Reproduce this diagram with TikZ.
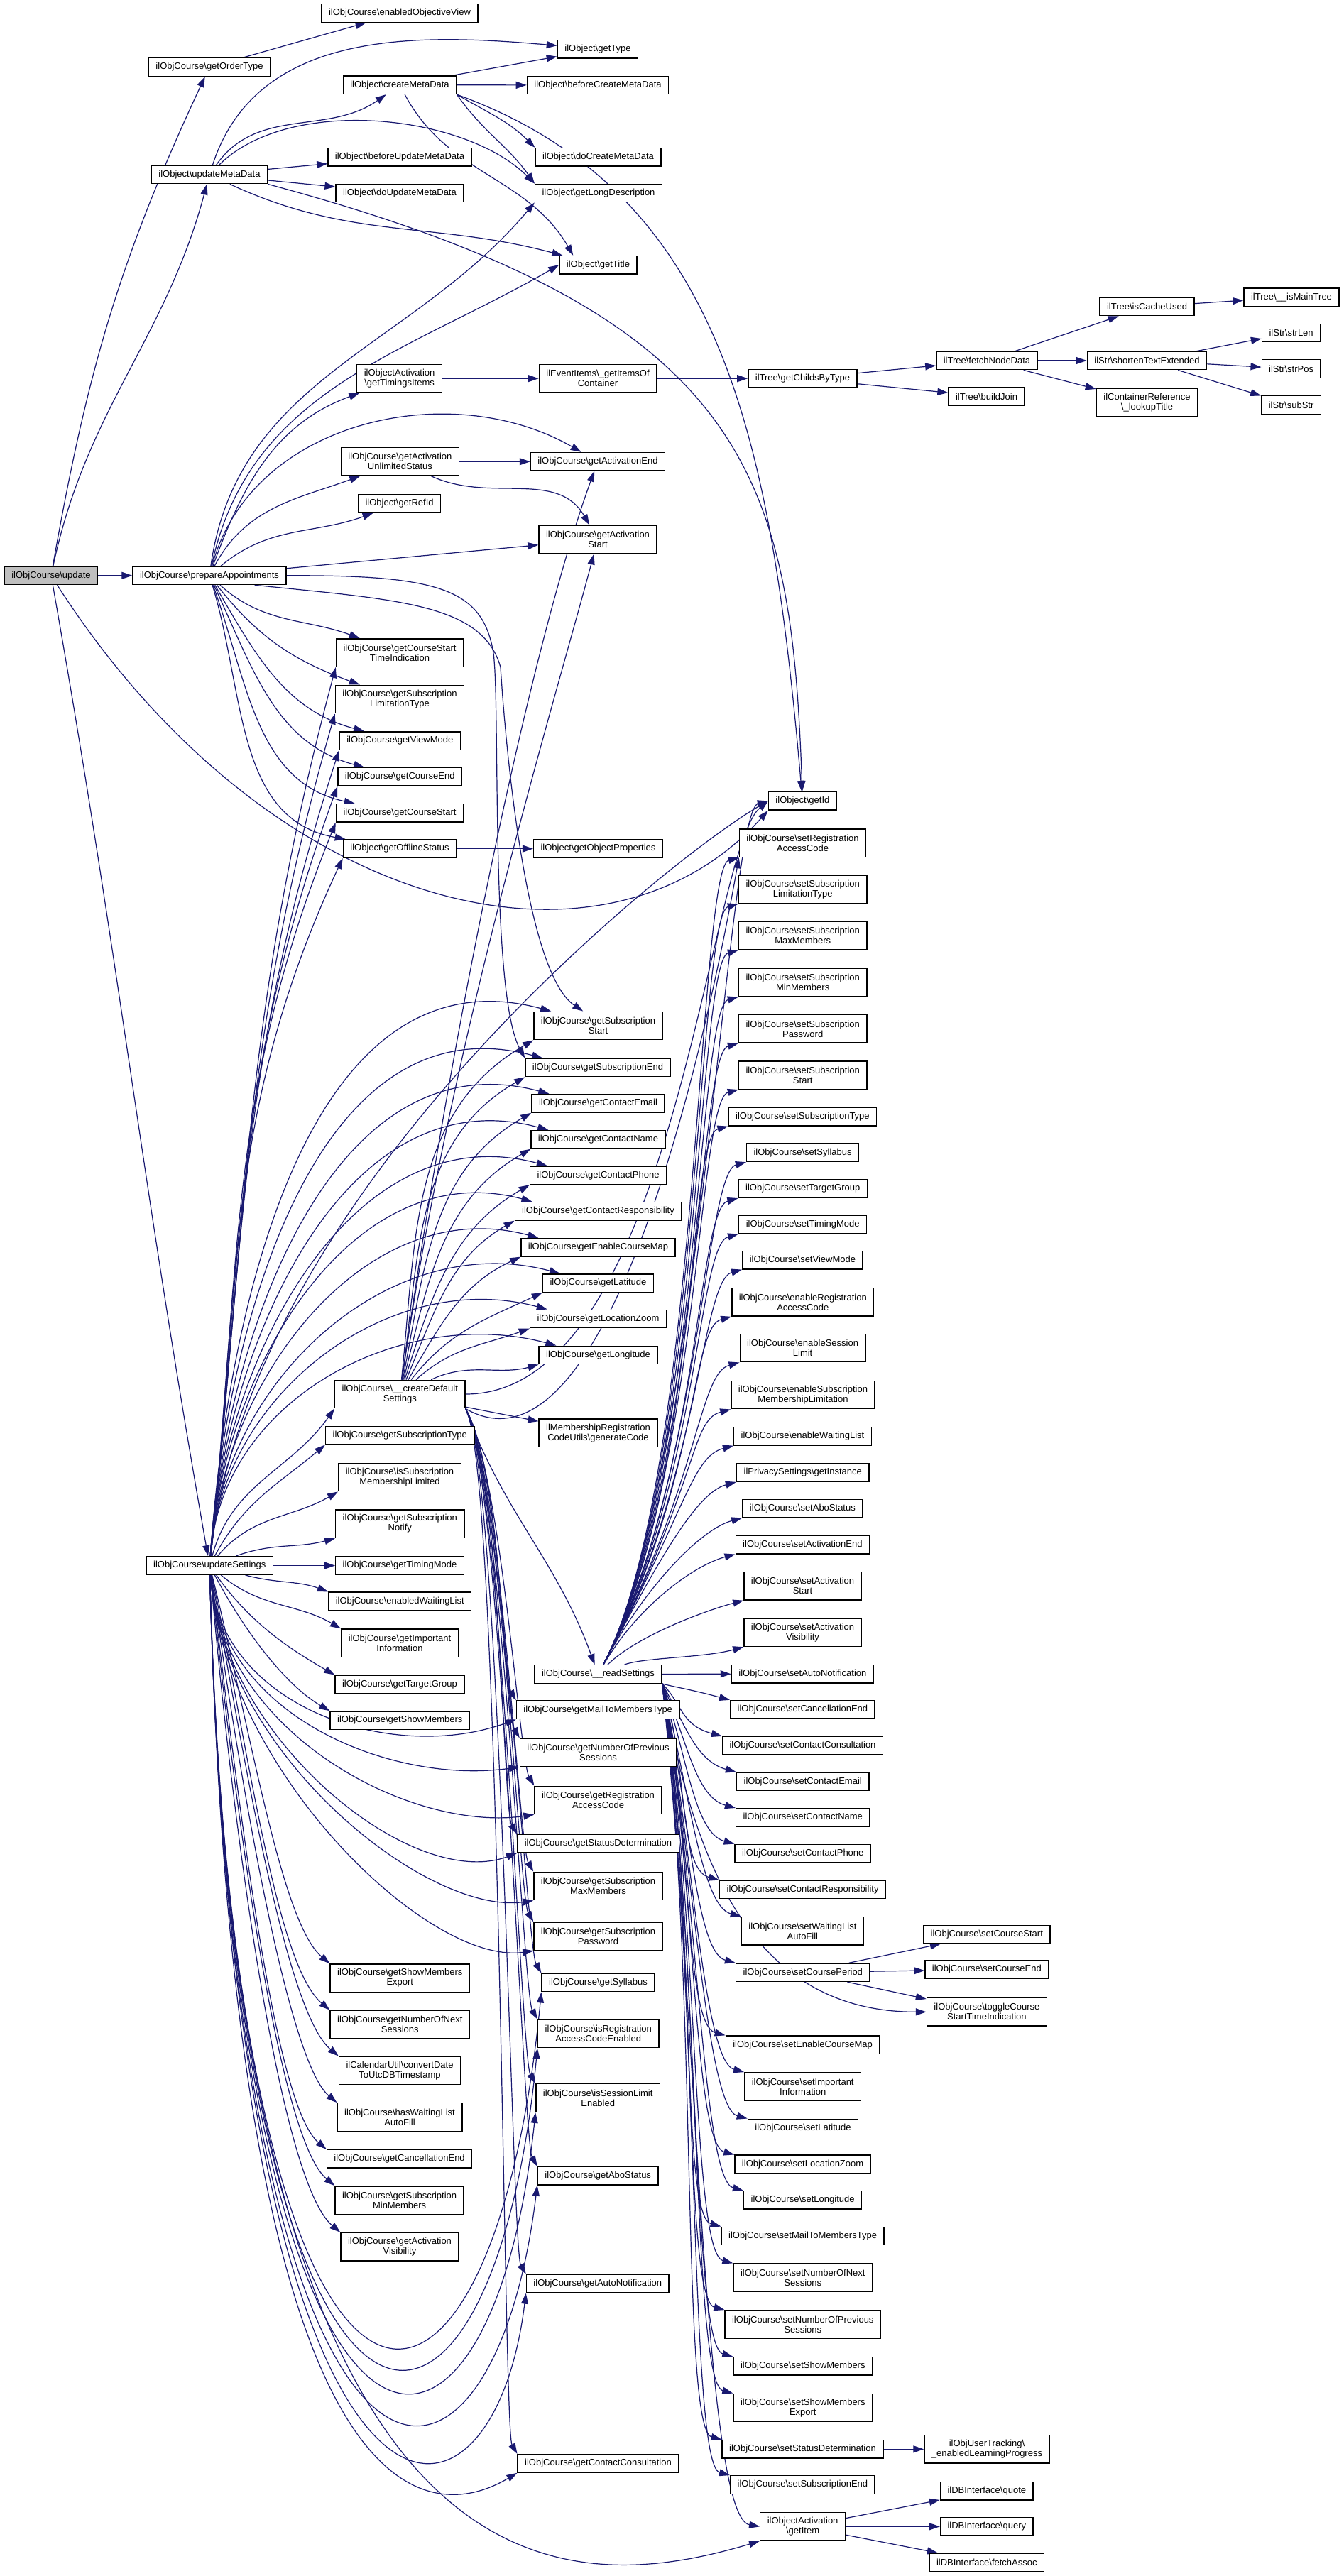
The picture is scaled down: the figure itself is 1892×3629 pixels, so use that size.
\documentclass[tikz,border=0pt]{standalone}
\usepackage{fontspec}
\setsansfont{Liberation Sans}
\usepackage{xcolor}
\usepackage{tikz}
\usetikzlibrary{arrows.meta,backgrounds}

\definecolor{callblue}{HTML}{191970}
\definecolor{rootgray}{HTML}{BFBFBF}
\newcommand{\bsl}{\textbackslash}

\begin{document}
\begin{tikzpicture}[
    x=0.4pt, y=0.4pt,
    font=\fontsize{5.2}{5.6}\selectfont\sffamily,
    fn/.style={rectangle, draw=black, line width=0.56pt, fill=white, align=center,
               inner xsep=4pt, inner ysep=0.8pt, minimum height=10.2pt},
    fnii/.style={fn, minimum height=15.8pt},
    root/.style={fn, fill=rootgray},
    call/.style={-{Triangle[length=6pt,width=4pt]}, line width=0.48pt, draw=callblue}
]
\useasboundingbox (0,0) rectangle (1892,-3629);

% =========================================================
% caller chain (left)
% =========================================================
\node[root] (update)              at (72,-810.8)    {ilObjCourse\bsl update};
\node[fn]   (getOrderType)        at (295,-94.5)    {ilObjCourse\bsl getOrderType};
\node[fn]   (updateMetaData)      at (295,-246)     {ilObject\bsl updateMetaData};
\node[fn]   (prepareAppointments) at (295,-810.8)   {ilObjCourse\bsl prepareAppointments};
\node[fn]   (updateSettings)      at (295.3,-2205.5) {ilObjCourse\bsl updateSettings};

% =========================================================
% second column
% =========================================================
\node[fn]   (enabledObjectiveView) at (563,-18.5)   {ilObjCourse\bsl enabledObjectiveView};
\node[fn]   (createMetaData)       at (563,-119.7)  {ilObject\bsl createMetaData};
\node[fn]   (beforeUpdateMetaData) at (563,-221.3)  {ilObject\bsl beforeUpdateMetaData};
\node[fn]   (doUpdateMetaData)     at (563,-272)    {ilObject\bsl doUpdateMetaData};
\node[fnii] (getTimingsItems)      at (562.6,-533.2) {ilObjectActivation\\\bsl getTimingsItems};
\node[fnii] (getActUnlimited)      at (563.4,-650.2) {ilObjCourse\bsl getActivation\\UnlimitedStatus};
\node[fn]   (getRefId)             at (562.6,-709.2) {ilObject\bsl getRefId};
\node[fnii] (getCourseStartTI)     at (563,-919.6)  {ilObjCourse\bsl getCourseStart\\TimeIndication};
\node[fnii] (getSubLimType)        at (563,-985)    {ilObjCourse\bsl getSubscription\\LimitationType};
\node[fn]   (getViewMode)          at (563.3,-1043.6) {ilObjCourse\bsl getViewMode};
\node[fn]   (getCourseEnd)         at (563.3,-1094.4) {ilObjCourse\bsl getCourseEnd};
\node[fn]   (getCourseStart)       at (563,-1145.4) {ilObjCourse\bsl getCourseStart};
\node[fn]   (getOfflineStatus)     at (563,-1195.6) {ilObject\bsl getOfflineStatus};
\node[fnii] (createDefault)        at (563.3,-1964) {ilObjCourse\bsl\_\_createDefault\\Settings};
\node[fn]   (getSubType)           at (563.3,-2022) {ilObjCourse\bsl getSubscriptionType};
\node[fnii] (isSubMemLimited)      at (563,-2081)   {ilObjCourse\bsl isSubscription\\MembershipLimited};
\node[fnii] (getSubNotify)         at (563.3,-2146.6) {ilObjCourse\bsl getSubscription\\Notify};
\node[fn]   (getTimingMode)        at (563,-2205.5) {ilObjCourse\bsl getTimingMode};
\node[fn]   (enabledWaitingList)   at (563.3,-2255.8) {ilObjCourse\bsl enabledWaitingList};
\node[fnii] (getImportantInfo)     at (563,-2314.7) {ilObjCourse\bsl getImportant\\Information};
\node[fn]   (getTargetGroup)       at (563,-2373)   {ilObjCourse\bsl getTargetGroup};
\node[fn]   (getShowMembers)       at (563.3,-2423.6) {ilObjCourse\bsl getShowMembers};
\node[fnii] (getShowMembersExport) at (563.3,-2786.6) {ilObjCourse\bsl getShowMembers\\Export};
\node[fnii] (getNumNextSessions)   at (563.3,-2852) {ilObjCourse\bsl getNumberOfNext\\Sessions};
\node[fnii] (convertDate)          at (563,-2917)   {ilCalendarUtil\bsl convertDate\\ToUtcDBTimestamp};
\node[fnii] (hasWLAutoFill)        at (563,-2982.5) {ilObjCourse\bsl hasWaitingList\\AutoFill};
\node[fn]   (getCancellationEnd)   at (562.6,-3041.2) {ilObjCourse\bsl getCancellationEnd};
\node[fnii] (getSubMinMembers)     at (562.6,-3099.6) {ilObjCourse\bsl getSubscription\\MinMembers};
\node[fnii] (getActVisibility)     at (563,-3165.2) {ilObjCourse\bsl getActivation\\Visibility};

% =========================================================
% third column
% =========================================================
\node[fn]   (getType)              at (842,-69.3)   {ilObject\bsl getType};
\node[fn]   (beforeCreateMetaData) at (842,-120)    {ilObject\bsl beforeCreateMetaData};
\node[fn]   (doCreateMetaData)     at (842.5,-221.3) {ilObject\bsl doCreateMetaData};
\node[fn]   (getLongDescription)   at (843,-272)    {ilObject\bsl getLongDescription};
\node[fn]   (getTitle)             at (842.5,-373.3) {ilObject\bsl getTitle};
\node[fnii] (getItemsOfContainer)  at (842,-533.2)  {ilEventItems\bsl\_getItemsOf\\Container};
\node[fn]   (getActEnd)            at (842,-650.3)  {ilObjCourse\bsl getActivationEnd};
\node[fnii] (getActStart)          at (842,-760)    {ilObjCourse\bsl getActivation\\Start};
\node[fn]   (getObjectProperties)  at (842.5,-1195.6) {ilObject\bsl getObjectProperties};
\node[fnii] (getSubStart)          at (842.5,-1445) {ilObjCourse\bsl getSubscription\\Start};
\node[fn]   (getSubEnd)            at (842,-1504)   {ilObjCourse\bsl getSubscriptionEnd};
\node[fn]   (getContactEmail)      at (842.5,-1554.3) {ilObjCourse\bsl getContactEmail};
\node[fn]   (getContactName)       at (842.5,-1605.3) {ilObjCourse\bsl getContactName};
\node[fn]   (getContactPhone)      at (842.5,-1655.8) {ilObjCourse\bsl getContactPhone};
\node[fn]   (getContactResp)       at (842.5,-1706.2) {ilObjCourse\bsl getContactResponsibility};
\node[fn]   (getEnableCourseMap)   at (842.5,-1757.2) {ilObjCourse\bsl getEnableCourseMap};
\node[fn]   (getLatitude)          at (842.5,-1807.6) {ilObjCourse\bsl getLatitude};
\node[fn]   (getLocationZoom)      at (842.5,-1858) {ilObjCourse\bsl getLocationZoom};
\node[fn]   (getLongitude)         at (842.5,-1909) {ilObjCourse\bsl getLongitude};
\node[fnii] (generateCode)         at (842.5,-2018.7) {ilMembershipRegistration\\CodeUtils\bsl generateCode};
\node[fn]   (readSettings)         at (842.5,-2358.5) {ilObjCourse\bsl\_\_readSettings};
\node[fn]   (getMailToMembersType) at (842.2,-2408.8) {ilObjCourse\bsl getMailToMembersType};
\node[fnii] (getNumPrevSessions)   at (842.5,-2468.8) {ilObjCourse\bsl getNumberOfPrevious\\Sessions};
\node[fnii] (getRegAccessCode)     at (842.5,-2536) {ilObjCourse\bsl getRegistration\\AccessCode};
\node[fn]   (getStatusDet)         at (842.5,-2597.3) {ilObjCourse\bsl getStatusDetermination};
\node[fnii] (getSubMaxMembers)     at (842.5,-2657) {ilObjCourse\bsl getSubscription\\MaxMembers};
\node[fnii] (getSubPassword)       at (842.5,-2727.8) {ilObjCourse\bsl getSubscription\\Password};
\node[fn]   (getSyllabus)          at (842.5,-2793) {ilObjCourse\bsl getSyllabus};
\node[fnii] (isRegAccessCodeEnabled) at (842.8,-2865) {ilObjCourse\bsl isRegistration\\AccessCodeEnabled};
\node[fnii] (isSessionLimitEnabled) at (842.2,-2955.5) {ilObjCourse\bsl isSessionLimit\\Enabled};
\node[fn]   (getAboStatus)         at (842.2,-3065.2) {ilObjCourse\bsl getAboStatus};
\node[fn]   (getAutoNotification)  at (841.8,-3217.2) {ilObjCourse\bsl getAutoNotification};
\node[fn]   (getContactConsultation) at (842.5,-3470.3) {ilObjCourse\bsl getContactConsultation};

% =========================================================
% fourth column
% =========================================================
\node[fn]   (getChildsByType)      at (1130.5,-533.2) {ilTree\bsl getChildsByType};
\node[fn]   (getId)                at (1130.4,-1128.4) {ilObject\bsl getId};
\node[fnii] (setRegAC)             at (1130.5,-1187.7) {ilObjCourse\bsl setRegistration\\AccessCode};
\node[fnii] (setSubLimType)        at (1130.7,-1253) {ilObjCourse\bsl setSubscription\\LimitationType};
\node[fnii] (setSubMaxMembers)     at (1130.7,-1318.2) {ilObjCourse\bsl setSubscription\\MaxMembers};
\node[fnii] (setSubMinMembers)     at (1130.7,-1384.1) {ilObjCourse\bsl setSubscription\\MinMembers};
\node[fnii] (setSubPassword)       at (1130.7,-1449.4) {ilObjCourse\bsl setSubscription\\Password};
\node[fnii] (setSubStart)          at (1130.7,-1514.6) {ilObjCourse\bsl setSubscription\\Start};
\node[fn]   (setSubType)           at (1130.4,-1573.2) {ilObjCourse\bsl setSubscriptionType};
\node[fn]   (setSyllabus)          at (1130.6,-1623.7) {ilObjCourse\bsl setSyllabus};
\node[fn]   (setTargetGroup)       at (1130.7,-1674.6) {ilObjCourse\bsl setTargetGroup};
\node[fn]   (setTimingMode)        at (1130.7,-1725) {ilObjCourse\bsl setTimingMode};
\node[fn]   (setViewMode)          at (1130.4,-1775.2) {ilObjCourse\bsl setViewMode};
\node[fnii] (enableRegAC)          at (1130.8,-1834.4) {ilObjCourse\bsl enableRegistration\\AccessCode};
\node[fnii] (enableSessionLimit)   at (1130.6,-1899) {ilObjCourse\bsl enableSession\\Limit};
\node[fnii] (enableSubMemLimit)    at (1131,-1965) {ilObjCourse\bsl enableSubscription\\MembershipLimitation};
\node[fn]   (enableWaitingList)    at (1130.5,-2023.2) {ilObjCourse\bsl enableWaitingList};
\node[fn]   (getInstance)          at (1130.7,-2074.4) {ilPrivacySettings\bsl getInstance};
\node[fn]   (setAboStatus)         at (1130.4,-2125) {ilObjCourse\bsl setAboStatus};
\node[fn]   (setActEnd)            at (1130.4,-2176.1) {ilObjCourse\bsl setActivationEnd};
\node[fnii] (setActStart)          at (1130.5,-2234.2) {ilObjCourse\bsl setActivation\\Start};
\node[fnii] (setActVisibility)     at (1130.5,-2299.8) {ilObjCourse\bsl setActivation\\Visibility};
\node[fn]   (setAutoNotification)  at (1130.4,-2358.1) {ilObjCourse\bsl setAutoNotification};
\node[fn]   (setCancellationEnd)   at (1130.4,-2408.3) {ilObjCourse\bsl setCancellationEnd};
\node[fn]   (setContactConsultation) at (1130.5,-2459.3) {ilObjCourse\bsl setContactConsultation};
\node[fn]   (setContactEmail)      at (1130.7,-2509.8) {ilObjCourse\bsl setContactEmail};
\node[fn]   (setContactName)       at (1130.8,-2560.4) {ilObjCourse\bsl setContactName};
\node[fn]   (setContactPhone)      at (1130.8,-2611) {ilObjCourse\bsl setContactPhone};
\node[fn]   (setContactResp)       at (1130.6,-2662) {ilObjCourse\bsl setContactResponsibility};
\node[fnii] (setWLAutoFill)        at (1130.4,-2720.4) {ilObjCourse\bsl setWaitingList\\AutoFill};
\node[fn]   (setCoursePeriod)      at (1130.8,-2778.7) {ilObjCourse\bsl setCoursePeriod};
\node[fn]   (setEnableCourseMap)   at (1130.6,-2880.8) {ilObjCourse\bsl setEnableCourseMap};
\node[fnii] (setImportantInfo)     at (1130.7,-2939.5) {ilObjCourse\bsl setImportant\\Information};
\node[fn]   (setLatitude)          at (1131,-2998) {ilObjCourse\bsl setLatitude};
\node[fn]   (setLocationZoom)      at (1130.6,-3048.9) {ilObjCourse\bsl setLocationZoom};
\node[fn]   (setLongitude)         at (1130.6,-3099.4) {ilObjCourse\bsl setLongitude};
\node[fn]   (setMailToMembersType) at (1130.6,-3150) {ilObjCourse\bsl setMailToMembersType};
\node[fnii] (setNumNextSessions)   at (1130.8,-3208.8) {ilObjCourse\bsl setNumberOfNext\\Sessions};
\node[fnii] (setNumPrevSessions)   at (1130.8,-3274.5) {ilObjCourse\bsl setNumberOfPrevious\\Sessions};
\node[fn]   (setShowMembers)       at (1130.8,-3333.3) {ilObjCourse\bsl setShowMembers};
\node[fnii] (setShowMembersExport) at (1130.8,-3392) {ilObjCourse\bsl setShowMembers\\Export};
\node[fn]   (setStatusDet)         at (1130.5,-3450.3) {ilObjCourse\bsl setStatusDetermination};
\node[fn]   (setSubEnd)            at (1130.4,-3500.5) {ilObjCourse\bsl setSubscriptionEnd};
\node[fnii] (getItem)              at (1130.6,-3559.3) {ilObjectActivation\\\bsl getItem};

% =========================================================
% right columns
% =========================================================
\node[fn]   (fetchNodeData)  at (1390,-508)    {ilTree\bsl fetchNodeData};
\node[fn]   (buildJoin)      at (1389.5,-558.5) {ilTree\bsl buildJoin};
\node[fn]   (isCacheUsed)    at (1615.5,-432)  {ilTree\bsl isCacheUsed};
\node[fn]   (shortenText)    at (1615.5,-508)  {ilStr\bsl shortenTextExtended};
\node[fnii] (lookupTitle)    at (1615.5,-566.7) {ilContainerReference\\\bsl\_lookupTitle};
\node[fn]   (isMainTree)     at (1819,-418.7)  {ilTree\bsl\_\_isMainTree};
\node[fn]   (strLen)         at (1818.6,-469)  {ilStr\bsl strLen};
\node[fn]   (strPos)         at (1818.6,-519.5) {ilStr\bsl strPos};
\node[fn]   (subStr)         at (1818.6,-570.5) {ilStr\bsl subStr};
\node[fn]   (setCourseStart) at (1389.8,-2725) {ilObjCourse\bsl setCourseStart};
\node[fn]   (setCourseEnd)   at (1389.9,-2774.6) {ilObjCourse\bsl setCourseEnd};
\node[fnii] (toggleCourse)   at (1389.9,-2834.3) {ilObjCourse\bsl toggleCourse\\StartTimeIndication};
\node[fnii] (enabledLP)      at (1390,-3450.3) {ilObjUserTracking\bsl\\\_enabledLearningProgress};
\node[fn]   (quote)          at (1389.8,-3509.1) {ilDBInterface\bsl quote};
\node[fn]   (query)          at (1389.8,-3559.3) {ilDBInterface\bsl query};
\node[fn]   (fetchAssoc)     at (1389.8,-3609.8) {ilDBInterface\bsl fetchAssoc};

% =========================================================
% calls
% =========================================================
\begin{scope}[on background layer]
\fill[white] (0,0) rectangle (1892,-3629);

% update
\draw[call] (update) -- (prepareAppointments);
\draw[call] (update) to[out=80,in=-115] (getOrderType);
\draw[call] (update) to[out=78,in=-105] (updateMetaData);
\draw[call] (update) to[out=-80,in=100] (updateSettings);
\draw[call] (update) .. controls (380,-1290) and (850,-1400) .. (getId.south west);

\draw[call] (getOrderType) -- (enabledObjectiveView);

% updateMetaData
\draw[call] (updateMetaData) -- (beforeUpdateMetaData);
\draw[call] (updateMetaData) -- (doUpdateMetaData);
\draw[call] (updateMetaData) to[out=55,in=-145] (createMetaData);
\draw[call] (updateMetaData) to[out=72,in=175] (getType);
\draw[call] (updateMetaData) to[out=45,in=135,looseness=0.8] (getLongDescription.north west);
\draw[call] (updateMetaData) to[out=-25,in=165] (getTitle);
\draw[call] (updateMetaData.south east) to[out=-15,in=92,out distance=280pt,in distance=180pt] (getId);

% createMetaData
\draw[call] (createMetaData) -- (getType);
\draw[call] (createMetaData) -- (beforeCreateMetaData);
\draw[call] (createMetaData.south east) to[out=-30,in=135] (doCreateMetaData.north west);
\draw[call] (createMetaData.south east) to[out=-55,in=125] (getLongDescription.north west);
\draw[call] (createMetaData) to[out=-62,in=120] ([xshift=8pt]getTitle.north west);
\draw[call] (createMetaData.south east) to[out=-20,in=95,out distance=160pt,in distance=200pt] (getId);

% prepareAppointments
\draw[call] (prepareAppointments) to[out=70,in=200] (getTimingsItems);
\draw[call] (prepareAppointments) to[out=75,in=150] (getActEnd);
\draw[call] (prepareAppointments) to[out=62,in=200] (getActUnlimited);
\draw[call] (prepareAppointments) to[out=40,in=200] (getRefId);
\draw[call] (prepareAppointments) -- (getActStart);
\draw[call] (prepareAppointments) to[out=82,in=-130] (getLongDescription.south west);
\draw[call] (prepareAppointments) to[out=78,in=-150] (getTitle.west);
\draw[call] ([xshift=-18pt]prepareAppointments.south east)
    .. controls (560,-845) and (680,-850) .. (705,-940)
    .. controls (712,-1050) and (740,-1370) .. ([xshift=28pt]getSubStart.north west);
\draw[call] (prepareAppointments.east)
    .. controls (620,-810) and (680,-830) .. (695,-920)
    .. controls (705,-1000) and (690,-1400) .. (getSubEnd.north west);
\foreach \t/\o/\i in {getCourseStartTI/-42/160, getSubLimType/-52/160, getViewMode/-60/165,
                      getCourseEnd/-65/165, getCourseStart/-70/168, getOfflineStatus/-73/170}
  \draw[call] (prepareAppointments) to[out=\o,in=\i] (\t);

\draw[call] (getActUnlimited) -- (getActEnd);
\draw[call] (getActUnlimited) to[out=-25,in=120] (getActStart);
\draw[call] (getTimingsItems) -- (getItemsOfContainer);
\draw[call] (getItemsOfContainer) -- (getChildsByType);
\draw[call] (getChildsByType) -- (fetchNodeData);
\draw[call] (getChildsByType) -- (buildJoin);
\draw[call] (fetchNodeData) -- (isCacheUsed);
\draw[call] (fetchNodeData) -- (shortenText);
\draw[call] (fetchNodeData) -- (lookupTitle);
\draw[call] (isCacheUsed) -- (isMainTree);
\draw[call] (shortenText) -- (strLen);
\draw[call] (shortenText) -- (strPos);
\draw[call] (shortenText) -- (subStr);
\draw[call] (getOfflineStatus) -- (getObjectProperties);

% updateSettings
\draw[call] (updateSettings) -- (getTimingMode);
\foreach \t/\o/\i in {getCourseStartTI/84/-105, getSubLimType/84/-106, getViewMode/84/-108,
                      getCourseEnd/84/-110, getCourseStart/84/-112, getOfflineStatus/84/-115,
                      createDefault/75/-125, getSubType/62/-140, isSubMemLimited/50/-150,
                      getSubNotify/20/-165}
  \draw[call] (updateSettings) to[out=\o,in=\i] (\t.south west);
\foreach \t in {getSubStart, getSubEnd, getContactEmail, getContactName, getContactPhone,
                getContactResp, getEnableCourseMap, getLatitude, getLocationZoom, getLongitude}
  \draw[call] (updateSettings) to[out=86,in=165] ([xshift=10pt]\t.north west);
\foreach \t/\o/\i/\l in {enabledWaitingList/-15/160/1, getImportantInfo/-40/150/1,
                         getTargetGroup/-55/150/0.8, getShowMembers/-62/150/0.7,
                         getShowMembersExport/-76/140/0.4, getNumNextSessions/-78/140/0.4,
                         convertDate/-80/140/0.35, hasWLAutoFill/-82/140/0.3,
                         getCancellationEnd/-83/140/0.3, getSubMinMembers/-84/140/0.3,
                         getActVisibility/-85/140/0.3}
  \draw[call] (updateSettings) to[out=\o,in=\i,in looseness=\l] (\t.north west);
\foreach \t/\i/\l in {getMailToMembersType/-160/1, getNumPrevSessions/-172/0.9,
                      getRegAccessCode/-172/0.8, getStatusDet/-160/0.7,
                      getSubMaxMembers/-172/0.6, getSubPassword/-172/0.55}
  \draw[call] (updateSettings) to[out=-86,in=\i,in looseness=\l] (\t.south west);
\foreach \t/\y/\c in {getSyllabus/-3550/690, isRegAccessCodeEnabled/-3570/690,
                      isSessionLimitEnabled/-3590/690, getAboStatus/-3620/690,
                      getAutoNotification/-3640/690, getContactConsultation/-3560/600}
  \draw[call] (updateSettings) .. controls (330,\y) and (\c,\y) .. (\t.south west);
\draw[call] (updateSettings) .. controls (330,-3700) and (800,-3660) .. (getItem.south west);
\draw[call] (updateSettings) to[out=84,in=-150,in looseness=0.3] (getId.west);

% __createDefaultSettings
\draw[call] (createDefault) -- (generateCode);
\foreach \t/\o/\i in {getSubStart/84/-150, getSubEnd/82/-150, getContactEmail/79/-150,
                      getContactName/76/-150, getContactPhone/72/-150, getContactResp/67/-150,
                      getEnableCourseMap/60/-155, getLatitude/52/-155, getLocationZoom/42/-160,
                      getLongitude/25/-165}
  \draw[call] (createDefault) to[out=\o,in=\i] (\t.south west);
\draw[call] (createDefault) to[out=82,in=-110,in looseness=0.5] (getActEnd);
\draw[call] (createDefault) to[out=82,in=-105,in looseness=0.5] (getActStart);
\draw[call] (createDefault.south east) to[out=-70,in=110] (readSettings);
\draw[call] (createDefault.east) to[out=0,in=-140,out looseness=0.8,in looseness=0.3] (getId.west);
\draw[call] (createDefault.south east) to[out=-30,in=-100,out distance=92pt,in distance=108pt] (setRegAC.south west);
\foreach \t in {getMailToMembersType, getNumPrevSessions, getRegAccessCode, getStatusDet,
                getSubMaxMembers, getSubPassword, getSyllabus, isRegAccessCodeEnabled,
                isSessionLimitEnabled, getAboStatus, getAutoNotification, getContactConsultation}
  \draw[call] (createDefault.south east) to[out=-60,in=120,out distance=40pt,in distance=16pt] (\t.north west);

% __readSettings
\draw[call] (readSettings) -- (setAutoNotification);
\draw[call] (readSettings) to[out=62,in=-165,out distance=116pt,in distance=24pt] (getId.west);
\foreach \t/\o/\d in {setRegAC/62/116, setSubLimType/62/116, setSubMaxMembers/62/116,
                      setSubMinMembers/62/116, setSubPassword/62/116, setSubStart/62/116,
                      setSubType/62/116, setSyllabus/62/116, setTargetGroup/62/116,
                      setTimingMode/62/116, setViewMode/62/116, enableRegAC/62/116,
                      enableSessionLimit/62/116, enableSubMemLimit/62/116,
                      enableWaitingList/62/100, getInstance/62/62, setAboStatus/62/50,
                      setActEnd/60/38, setActStart/45/22, setActVisibility/20/12}
  \draw[call] (readSettings) to[out=\o,in=-165,out distance=\d pt,in distance=24pt] (\t.south west);
\foreach \t/\o/\d in {setCancellationEnd/-15/8, setContactConsultation/-45/16,
                      setContactEmail/-60/24, setContactName/-65/32, setContactPhone/-70/40,
                      setContactResp/-72/48, setWLAutoFill/-75/56, setCoursePeriod/-77/66,
                      setEnableCourseMap/-78/80, setImportantInfo/-79/88, setLatitude/-80/100,
                      setLocationZoom/-80/108, setLongitude/-80/116, setMailToMembersType/-81/124,
                      setNumNextSessions/-81/132, setNumPrevSessions/-82/140,
                      setShowMembers/-82/152, setShowMembersExport/-82/160,
                      setStatusDet/-83/168, setSubEnd/-83/176}
  \draw[call] (readSettings.south east) to[out=\o,in=165,out distance=\d pt,in distance=24pt] (\t.north west);
\draw[call] (readSettings.south east) to[out=-80,in=180,out distance=100pt,in distance=100pt] (toggleCourse.west);
\draw[call] (readSettings.south east) to[out=-84,in=170,out distance=192pt,in distance=32pt] (getItem.west);

% leaves on the right
\draw[call] (setCoursePeriod) -- (setCourseStart);
\draw[call] (setCoursePeriod) -- (setCourseEnd);
\draw[call] (setCoursePeriod) -- (toggleCourse);
\draw[call] (setStatusDet) -- (enabledLP);
\draw[call] (getItem) -- (quote);
\draw[call] (getItem) -- (query);
\draw[call] (getItem) -- (fetchAssoc);
\end{scope}

\end{tikzpicture}
\end{document}
